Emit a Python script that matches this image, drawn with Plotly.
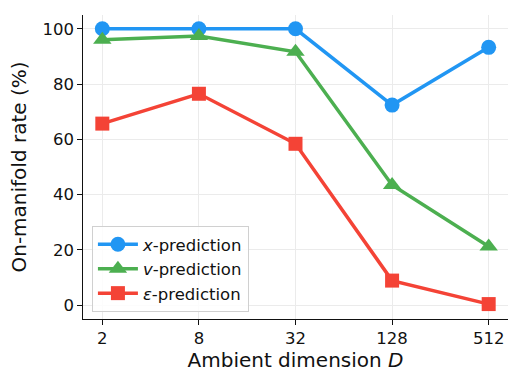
import plotly.graph_objects as go
import math

# Ambient dimension D (log2-spaced)
dims = [2, 8, 32, 128, 512]
dim_labels = ["2", "8", "32", "128", "512"]

# On-manifold rate (%) per prediction target
x_pred = [100.0, 100.0, 100.0, 72.4, 93.3]
v_pred = [96.0, 97.4, 91.7, 43.5, 21.2]
eps_pred = [65.7, 76.5, 58.4, 8.9, 0.4]

series = [
    ("<i>x</i>-prediction", x_pred, "#2196F3", "circle", 15),
    ("<i>v</i>-prediction", v_pred, "#4CAF50", "triangle-up", 16),
    ("<i>ε</i>-prediction", eps_pred, "#F44336", "square", 14),
]

font = "DejaVu Sans, Liberation Sans, sans-serif"

fig = go.Figure()
for name, vals, color, symbol, size in series:
    fig.add_trace(go.Scatter(
        x=dims, y=vals, name=name, mode="lines+markers",
        line=dict(color=color, width=3.5),
        marker=dict(color=color, symbol=symbol, size=size),
    ))

lo, hi = math.log10(dims[0]), math.log10(dims[-1])
pad = (hi - lo) * 0.05

fig.update_layout(
    width=508, height=373,
    margin=dict(l=83, r=0, t=15, b=54),
    paper_bgcolor="white", plot_bgcolor="white",
    font=dict(family=font, size=16, color="#111"),
    showlegend=True,
    legend=dict(
        x=0.021, y=0.023, xanchor="left", yanchor="bottom",
        bgcolor="rgba(255,255,255,0.85)", bordercolor="#d0d0d0", borderwidth=1,
        font=dict(family=font, size=16.5, color="#111"),
        tracegroupgap=0, itemwidth=40,
    ),
    xaxis=dict(
        type="log", range=[lo - pad, hi + pad],
        tickvals=dims, ticktext=dim_labels,
        showgrid=True, gridcolor="#ebebeb", gridwidth=1,
        showline=True, linecolor="#111", linewidth=1.3,
        ticks="outside", ticklen=4.5, tickcolor="#111",
        tickfont=dict(size=16.5),
        title=dict(text="Ambient dimension <i>D</i>", font=dict(size=20), standoff=3),
        zeroline=False,
    ),
    yaxis=dict(
        range=[-5, 105],
        tickvals=[0, 20, 40, 60, 80, 100],
        showgrid=True, gridcolor="#ebebeb", gridwidth=1,
        showline=True, linecolor="#111", linewidth=1.3,
        ticks="outside", ticklen=4.5, tickcolor="#111",
        tickfont=dict(size=16.5),
        title=dict(text="On-manifold rate (%)", font=dict(size=20), standoff=10),
        zeroline=False,
    ),
)

fig.write_html("out.html")
